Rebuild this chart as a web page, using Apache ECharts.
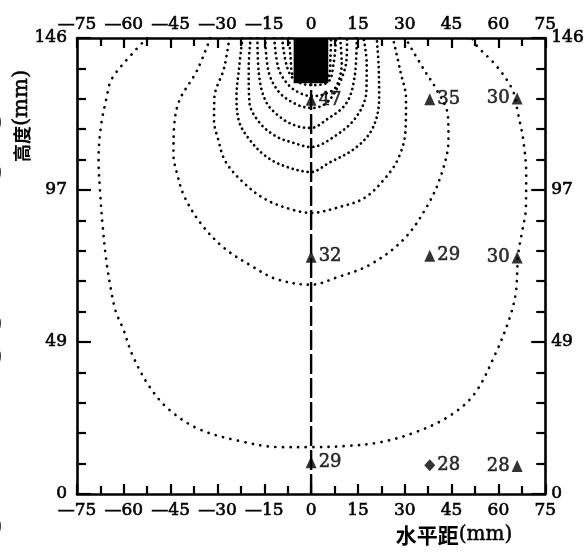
<!DOCTYPE html>
<html>
<head>
<meta charset="utf-8">
<script src="https://cdn.jsdelivr.net/npm/echarts@6/dist/echarts.min.js"></script>
<style>
html,body{margin:0;padding:0;background:#fff;}
#chart{width:587px;height:552px;}
</style>
</head>
<body>
<div id="chart"></div>
<script>
// Axis ranges: horizontal distance (mm) and height (mm)
const xRange = [-75, 75];
const yRange = [0, 146];
const xStep = 15;
const yStep = 146 / 3;
const yTickLabels = ['0', '49', '97', '146'];

// Dotted isolines, points as [horizontal distance, height] in mm
const contourA = [[-52.5,146],[-57.3,141.0],[-63.9,132.8],[-65.6,126.5],[-67.3,117.9],[-68.1,107.4],[-67.6,96.6],[-66.8,86.1],[-65.7,75.5],[-64.0,64.7],[-62.5,58.2],[-60.3,53.1],[-57.2,44.4],[-52.0,34.7],[-45.7,27.2],[-36.2,20.9],[-23.1,17.0],[-9.7,15.0],[0,15.0],[11.7,15.4],[22.3,16.6],[32.9,19.6],[43.9,24.7],[52.2,31.9],[58.9,44.6],[63.6,56.4],[65.6,64.7],[66.3,76.6],[67.4,83.0],[68.8,91.7],[68.9,102.3],[68.0,113.0],[66.3,121.7],[64.6,129.2],[59.4,137.0],[53.1,143.5],[51.5,146]];
const contourB = [[-32.3,146],[-36.6,135.5],[-42.2,126.0],[-43.9,117.4],[-44.1,108.8],[-42.9,102.4],[-40.5,95.0],[-35.1,86.3],[-27.9,78.8],[-19.4,73.2],[-11.1,68.8],[0,67.0],[8.1,69.3],[19.0,73.5],[29.7,81.6],[37.3,92.4],[41.9,102.9],[44.0,113.5],[43.8,121.2],[40.1,129.6],[36.0,136.1],[30.2,146]];
const contourC = [[-26.2,146],[-27.9,136.3],[-31.0,126.8],[-31.1,119.4],[-29.9,114.0],[-27.5,106.6],[-22.1,100.1],[-14.9,94.5],[-6.3,91.1],[0,90.0],[8.4,91.7],[17.1,94.8],[23.6,101.0],[27.9,107.4],[30.2,116.0],[30.4,126.6],[28.6,135.3],[26.2,146]];
const contourD = [[-22.0,146],[-23.2,135.3],[-23.9,127.6],[-23.1,119.3],[-20.0,113.8],[-14.6,108.2],[-8.3,104.9],[0,103.1],[5.5,105.9],[14.2,110.8],[19.7,117.1],[21.8,126.7],[21.6,137.6],[21.0,146]];
const contourE = [[-19.4,146],[-20.0,136.2],[-19.8,125.6],[-16.7,119.1],[-11.4,114.6],[-5.9,112.5],[0,111.1],[6.9,114.1],[14.3,120.5],[17.7,129.0],[17.8,137.7],[16.8,146]];
const contourF = [[-17.2,146],[-16.8,135.2],[-14.4,125.5],[-9.0,120.0],[-3.9,117.6],[0,117.2],[4.7,119.7],[11.2,125.0],[13.9,133.3],[14.6,146]];
const contourG = [[-14.7,146],[-13.6,135.1],[-10.2,128.6],[-4.8,124.8],[0,123.6],[4.8,125.1],[9.1,131.5],[11.4,139.8],[11.5,146]];
const contourH = [[-11.8,146],[-10.4,136.1],[-6.9,130.6],[-2.5,127.9],[0.7,127.4],[5.0,128.3],[8.1,130.6],[9.8,137.9],[9.3,146]];
const contourI = [[-9.3,146],[-7.8,137.0],[-5.3,132.6],[0,130.9],[5.5,132.0],[7.2,137.9],[8.0,146]];
const contourJ = [[-7.0,146],[-6.6,140.0],[-5.8,134.0],[0,132.3],[5.8,134.0],[6.2,140.0],[6.4,146]];

// Heat source block at the top centre: [x0, y0, x1, y1] in mm
const sourceBlock = [-5.6, 131.5, 5.5, 146];
// Vertical centre line through the block
const centreLine = [[0, 0], [0, 131.5]];

// Measuring points and their readings
const pointX = [0, 38, 66, 0, 38, 66, 0, 38, 66];
const pointY = [126.2, 126.4, 126.6, 76.0, 76.3, 75.7, 10.2, 9.2, 9.0];
const pointValue = [47, 35, 30, 32, 29, 30, 29, 28, 28];
const pointSymbol = ['triangle', 'triangle', 'triangle', 'triangle', 'triangle', 'triangle', 'triangle', 'diamond', 'triangle'];

const serif = 'DejaVu Serif';
const ink = '#000';

function xLabel(v) {
  return v < 0 ? '\u2014' + (-v) : String(v);
}

// Slight outline so the serif digits print with a heavier stroke
const heavyText = { textBorderColor: ink, textBorderWidth: 0.6 };

function makeXAxis(position, margin) {
  return {
    type: 'value', position: position,
    min: xRange[0], max: xRange[1], interval: xStep,
    axisLine: { show: true, onZero: false, lineStyle: { color: ink, width: 2.6 } },
    axisTick: { show: true, inside: true, length: 10, lineStyle: { color: ink, width: 2.2 } },
    minorTick: { show: true, splitNumber: 2, length: 8, lineStyle: { color: ink, width: 2.2 } },
    splitLine: { show: false },
    axisLabel: Object.assign({ formatter: xLabel, color: ink, fontFamily: serif, fontSize: 17, margin: margin, showMinLabel: true, showMaxLabel: true }, heavyText)
  };
}

function makeYAxis(position) {
  return {
    type: 'value', position: position,
    min: yRange[0], max: yRange[1], interval: yStep,
    axisLine: { show: true, onZero: false, lineStyle: { color: ink, width: 2.6 } },
    axisTick: { show: true, inside: true, length: 14, lineStyle: { color: ink, width: 2.2 } },
    minorTick: { show: true, splitNumber: 5, length: 9, lineStyle: { color: ink, width: 2.2 } },
    splitLine: { show: false },
    axisLabel: Object.assign({
      formatter: function (v) { return yTickLabels[Math.round(v / yStep)]; },
      color: ink, fontFamily: serif, fontSize: 17, margin: position === 'left' ? 10 : 6,
      showMinLabel: true, showMaxLabel: true
    }, heavyText)
  };
}

const contours = [contourA, contourB, contourC, contourD, contourE, contourF, contourG, contourH, contourI, contourJ];
const dotGaps = [7.5, 7, 6, 5, 5, 5, 5, 5, 5, 5];

const series = contours.map(function (pts, i) {
  return {
    type: 'line', data: pts, showSymbol: false, smooth: 0.35, silent: true, z: 2,
    lineStyle: { color: ink, width: 2.7, type: [0.1, dotGaps[i]], cap: 'round' }
  };
});

series.push({
  type: 'line', data: centreLine, showSymbol: false, silent: true, z: 3,
  lineStyle: { color: ink, width: 2.4, type: [20, 4] }
});

series.push({
  type: 'custom', z: 5, silent: true,
  data: [sourceBlock],
  renderItem: function (params, api) {
    const p0 = api.coord([api.value(0), api.value(3)]);
    const p1 = api.coord([api.value(2), api.value(1)]);
    return {
      type: 'rect',
      shape: { x: p0[0], y: p0[1], width: p1[0] - p0[0], height: p1[1] - p0[1] },
      style: { fill: ink }
    };
  }
});

series.push({
  type: 'scatter', z: 6,
  data: pointX.map(function (x, i) {
    return {
      value: [x, pointY[i], pointValue[i]],
      symbol: pointSymbol[i],
      label: { position: x > 50 ? 'left' : 'right' }
    };
  }),
  symbolSize: [11, 12],
  itemStyle: { color: ink },
  label: Object.assign({
    show: true, distance: 2, color: ink, fontFamily: serif, fontSize: 18,
    formatter: function (p) { return String(p.value[2]); }
  }, heavyText)
});

const chart = echarts.init(document.getElementById('chart'), null, { renderer: 'canvas' });
chart.setOption({
  backgroundColor: '#fff',
  animation: false,
  grid: { left: 77, right: 41, top: 38, bottom: 58, containLabel: false },
  xAxis: [makeXAxis('bottom', 8), makeXAxis('top', 5)],
  yAxis: [makeYAxis('left'), makeYAxis('right')],
  series: series,
  graphic: [
    {
      type: 'text', x: 22, y: 116, rotation: Math.PI / 2,
      style: {
        text: '{c|高度}{e|(mm)}', align: 'center', verticalAlign: 'middle',
        rich: {
          c: { fontFamily: 'Noto Sans CJK SC', fontWeight: 'bold', fontSize: 18, fill: ink },
          e: { fontFamily: serif, fontSize: 21, fill: ink, stroke: ink, lineWidth: 0.5 }
        }
      }
    },
    {
      type: 'text', x: 454, y: 535,
      style: {
        text: '{c|水平距}{e|(mm)}', align: 'center', verticalAlign: 'middle',
        rich: {
          c: { fontFamily: 'Noto Sans CJK SC', fontWeight: 'bold', fontSize: 21, fill: ink },
          e: { fontFamily: serif, fontSize: 20, fill: ink, stroke: ink, lineWidth: 0.5 }
        }
      }
    },
    { type: 'text', x: -6, y: 123, style: { text: ')', fontFamily: serif, fontSize: 22, fill: ink, verticalAlign: 'middle' } },
    { type: 'text', x: -6, y: 173, style: { text: ')', fontFamily: serif, fontSize: 22, fill: ink, verticalAlign: 'middle' } },
    { type: 'text', x: -6, y: 324, style: { text: ')', fontFamily: serif, fontSize: 22, fill: ink, verticalAlign: 'middle' } },
    { type: 'text', x: -6, y: 357, style: { text: ')', fontFamily: serif, fontSize: 22, fill: ink, verticalAlign: 'middle' } },
    { type: 'text', x: -6, y: 527, style: { text: ')', fontFamily: serif, fontSize: 22, fill: ink, verticalAlign: 'middle' } }
  ]
});
</script>
</body>
</html>
